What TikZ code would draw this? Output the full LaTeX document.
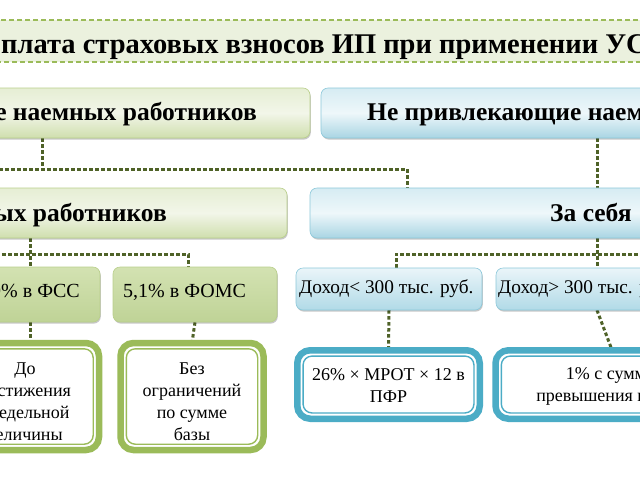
\documentclass[tikz,border=0pt]{standalone}
\usepackage{fontspec}
\setmainfont{Liberation Serif}
\usetikzlibrary{calc,shadows}
\definecolor{grn}{HTML}{9BBB59}
\definecolor{grnlt}{HTML}{EBF1DE}
\definecolor{grnbd}{HTML}{B9CF8B}
\definecolor{dotc}{HTML}{4F6228}
\definecolor{blu}{HTML}{4BACC6}
\definecolor{blubd}{HTML}{8CC8DA}
\definecolor{gtop}{HTML}{E6EED4}
\definecolor{gmid}{HTML}{F2F6E9}
\definecolor{gbot}{HTML}{CFDEAD}
\definecolor{btop}{HTML}{D6ECF3}
\definecolor{bmid}{HTML}{EEF7FA}
\definecolor{bbot}{HTML}{A9D5E3}
\definecolor{ftop}{HTML}{D3E2B2}
\definecolor{fbot}{HTML}{BFD396}
\definecolor{dtop}{HTML}{EAF5F9}
\definecolor{dbot}{HTML}{B1DAE7}
\tikzset{
  conn/.style={draw=dotc, line width=3pt, dash pattern=on 3.5pt off 2.5pt},
  shad/.style={drop shadow={shadow xshift=0.8pt, shadow yshift=-1.6pt, opacity=0.22, fill=black}},
  frame/.style={rectangle, inner sep=0pt},
  gbox/.style={frame, rounded corners=7pt, draw=grnbd, line width=0.6pt, top color=gtop, bottom color=gbot, middle color=gmid, shad},
  bbox/.style={frame, rounded corners=7pt, draw=blubd, line width=0.6pt, top color=btop, bottom color=bbot, middle color=bmid, shad},
  fbox/.style={frame, rounded corners=7pt, draw=grnbd, line width=0.6pt, top color=ftop, bottom color=fbot, shad},
  dbox/.style={frame, rounded corners=7pt, draw=blubd, line width=0.6pt, top color=dtop, bottom color=dbot, shad},
  ring/.style={frame, rounded corners=13pt, line width=6.5pt, fill=white},
  ttl/.style={font=\fontsize{28.5}{34}\selectfont\bfseries, inner sep=0pt},
  tb/.style={font=\fontsize{25.5}{30}\selectfont\bfseries, inner sep=0pt},
  tm/.style={font=\fontsize{20}{24}\selectfont, inner sep=0pt},
  ts/.style={font=\fontsize{19.3}{23}\selectfont, inner sep=0pt},
  tr/.style={font=\fontsize{18}{22}\selectfont, inner sep=0pt, align=center},
}
\begin{document}
\begin{tikzpicture}[x=1pt,y=-1pt]
\useasboundingbox (0,0) rectangle (640,480);
\clip (0,0) rectangle (640,480);
\fill[white] (0,0) rectangle (640,480);

% connector junctions
\coordinate (L1) at (-114,169);
\coordinate (R1) at (407,169);
\coordinate (J1) at (42,169);
\coordinate (L2) at (-100,254);
\coordinate (J2) at (30,254);
\coordinate (R2) at (188,254);
\coordinate (L3) at (396,254);
\coordinate (R3) at (700,254);

% box frames (anchors only)
\node[frame, minimum width=520pt, minimum height=50pt] (p1) at (50,113) {};
\node[frame, minimum width=552pt, minimum height=50pt] (q1) at (597,113) {};
\node[frame, minimum width=498pt, minimum height=50pt] (s1) at (38,213) {};
\node[frame, minimum width=574pt, minimum height=50pt] (s2) at (597,213) {};
\node[frame, minimum width=140pt, minimum height=55pt] (f1) at (30,294.5) {};
\node[frame, minimum width=164pt, minimum height=55pt] (f2) at (195,294.5) {};
\node[frame, minimum width=186pt, minimum height=42pt] (d1) at (389,289) {};
\node[frame, minimum width=202pt, minimum height=42pt] (d2) at (597,289) {};
\node[frame, minimum width=148pt, minimum height=107pt] (g1) at (25,396.5) {};
\node[frame, minimum width=143pt, minimum height=107pt] (g2) at (192,396.5) {};
\node[frame, minimum width=182.5pt, minimum height=68.5pt] (b1) at (388.5,384.5) {};
\node[frame, minimum width=233pt, minimum height=68.5pt] (b2) at (612,384.5) {};

% connectors
\draw[conn] (p1.south -| J1) -- (J1);
\draw[conn] (L1 |- s1.north) -- (L1) -- (R1) -- (R1 |- s2.north);
\draw[conn] (q1.south) -- (s2.north);
\draw[conn] (s1.south -| J2) -- (f1.north -| J2);
\draw[conn] (L2) -- (R2) -- (R2 |- f2.north);
\draw[conn] (s2.south) -- (d2.north);
\draw[conn] (L3 |- d1.north) -- (L3) -- (R3);
\draw[conn] (f1.south -| J2) -- (g1.north -| J2);
\draw[conn] (f2.south) -- (g2.north);
\draw[conn] (d1.south) -- (b1.north);
\draw[conn] (d2.south) -- (b2.north);

% title
\node[rectangle, draw=grn, fill=grnlt, line width=1.4pt, dash pattern=on 5pt off 3pt, minimum width=680pt, minimum height=42pt, inner sep=0pt] (title) at (320,41) {};
\node[ttl, anchor=base west] (tt) at (1,53) {\llap{О}плата страховых взносов ИП при применении УСН};

% boxes on top of connectors
\node[gbox, minimum width=520pt, minimum height=50pt] (p1b) at (p1) {};
\node[bbox, minimum width=552pt, minimum height=50pt] (q1b) at (q1) {};
\node[gbox, minimum width=498pt, minimum height=50pt] (s1b) at (s1) {};
\node[bbox, minimum width=574pt, minimum height=50pt] (s2b) at (s2) {};
\node[fbox, minimum width=140pt, minimum height=55pt] (f1b) at (f1) {};
\node[fbox, minimum width=164pt, minimum height=55pt] (f2b) at (f2) {};
\node[dbox, minimum width=186pt, minimum height=42pt] (d1b) at (d1) {};
\node[dbox, minimum width=202pt, minimum height=42pt] (d2b) at (d2) {};

% bottom rings
\node[ring, draw=grn, minimum width=148pt, minimum height=107pt] (g1b) at (g1) {};
\node[ring, draw=grn, minimum width=143pt, minimum height=107pt] (g2b) at (g2) {};
\node[ring, draw=blu, minimum width=182.5pt, minimum height=68.5pt] (b1b) at (b1) {};
\node[ring, draw=blu, minimum width=233pt, minimum height=68.5pt] (b2b) at (b2) {};
\foreach \n/\c in {g1/grn, g2/grn, b1/blu, b2/blu}{
  \draw[\c, line width=1.4pt, rounded corners=9pt] ([shift={(6pt,-6pt)}]\n.north west) rectangle ([shift={(-6pt,6pt)}]\n.south east);
}

% texts
\node[tb, anchor=base east] (t1) at (257,120) {Привлекающие наемных работников};
\node[tb, anchor=base west] (t2) at (367,120) {Не привлекающие наемных работников};
\node[tb, anchor=base east] (t3) at (167,221) {За наемных работников};
\node[tb, anchor=base west] (t4) at (550,221.5) {За себя};
\node[tm, anchor=base east] (t5) at (80,297) {2,9\% в ФСС};
\node[tm, anchor=base west] (t6) at (123,297) {5,1\% в ФОМС};
\node[ts, anchor=base west] (t7) at (299,293) {Доход< 300 тыс. руб.};
\node[ts, anchor=base west] (t8) at (498,293) {Доход> 300 тыс. руб.};
\node[tr] (t9) at (25,402) {До\\достижения\\предельной\\величины};
\node[tr] (t10) at (192,402) {Без\\ограничений\\по сумме\\базы};
\node[tr] (t11) at (388.5,386) {26\% × МРОТ × 12 в\\ПФР};
\node[tr] (t12) at (612,386) {1\% с суммы\\превышения в ПФР};
\end{tikzpicture}
\end{document}
